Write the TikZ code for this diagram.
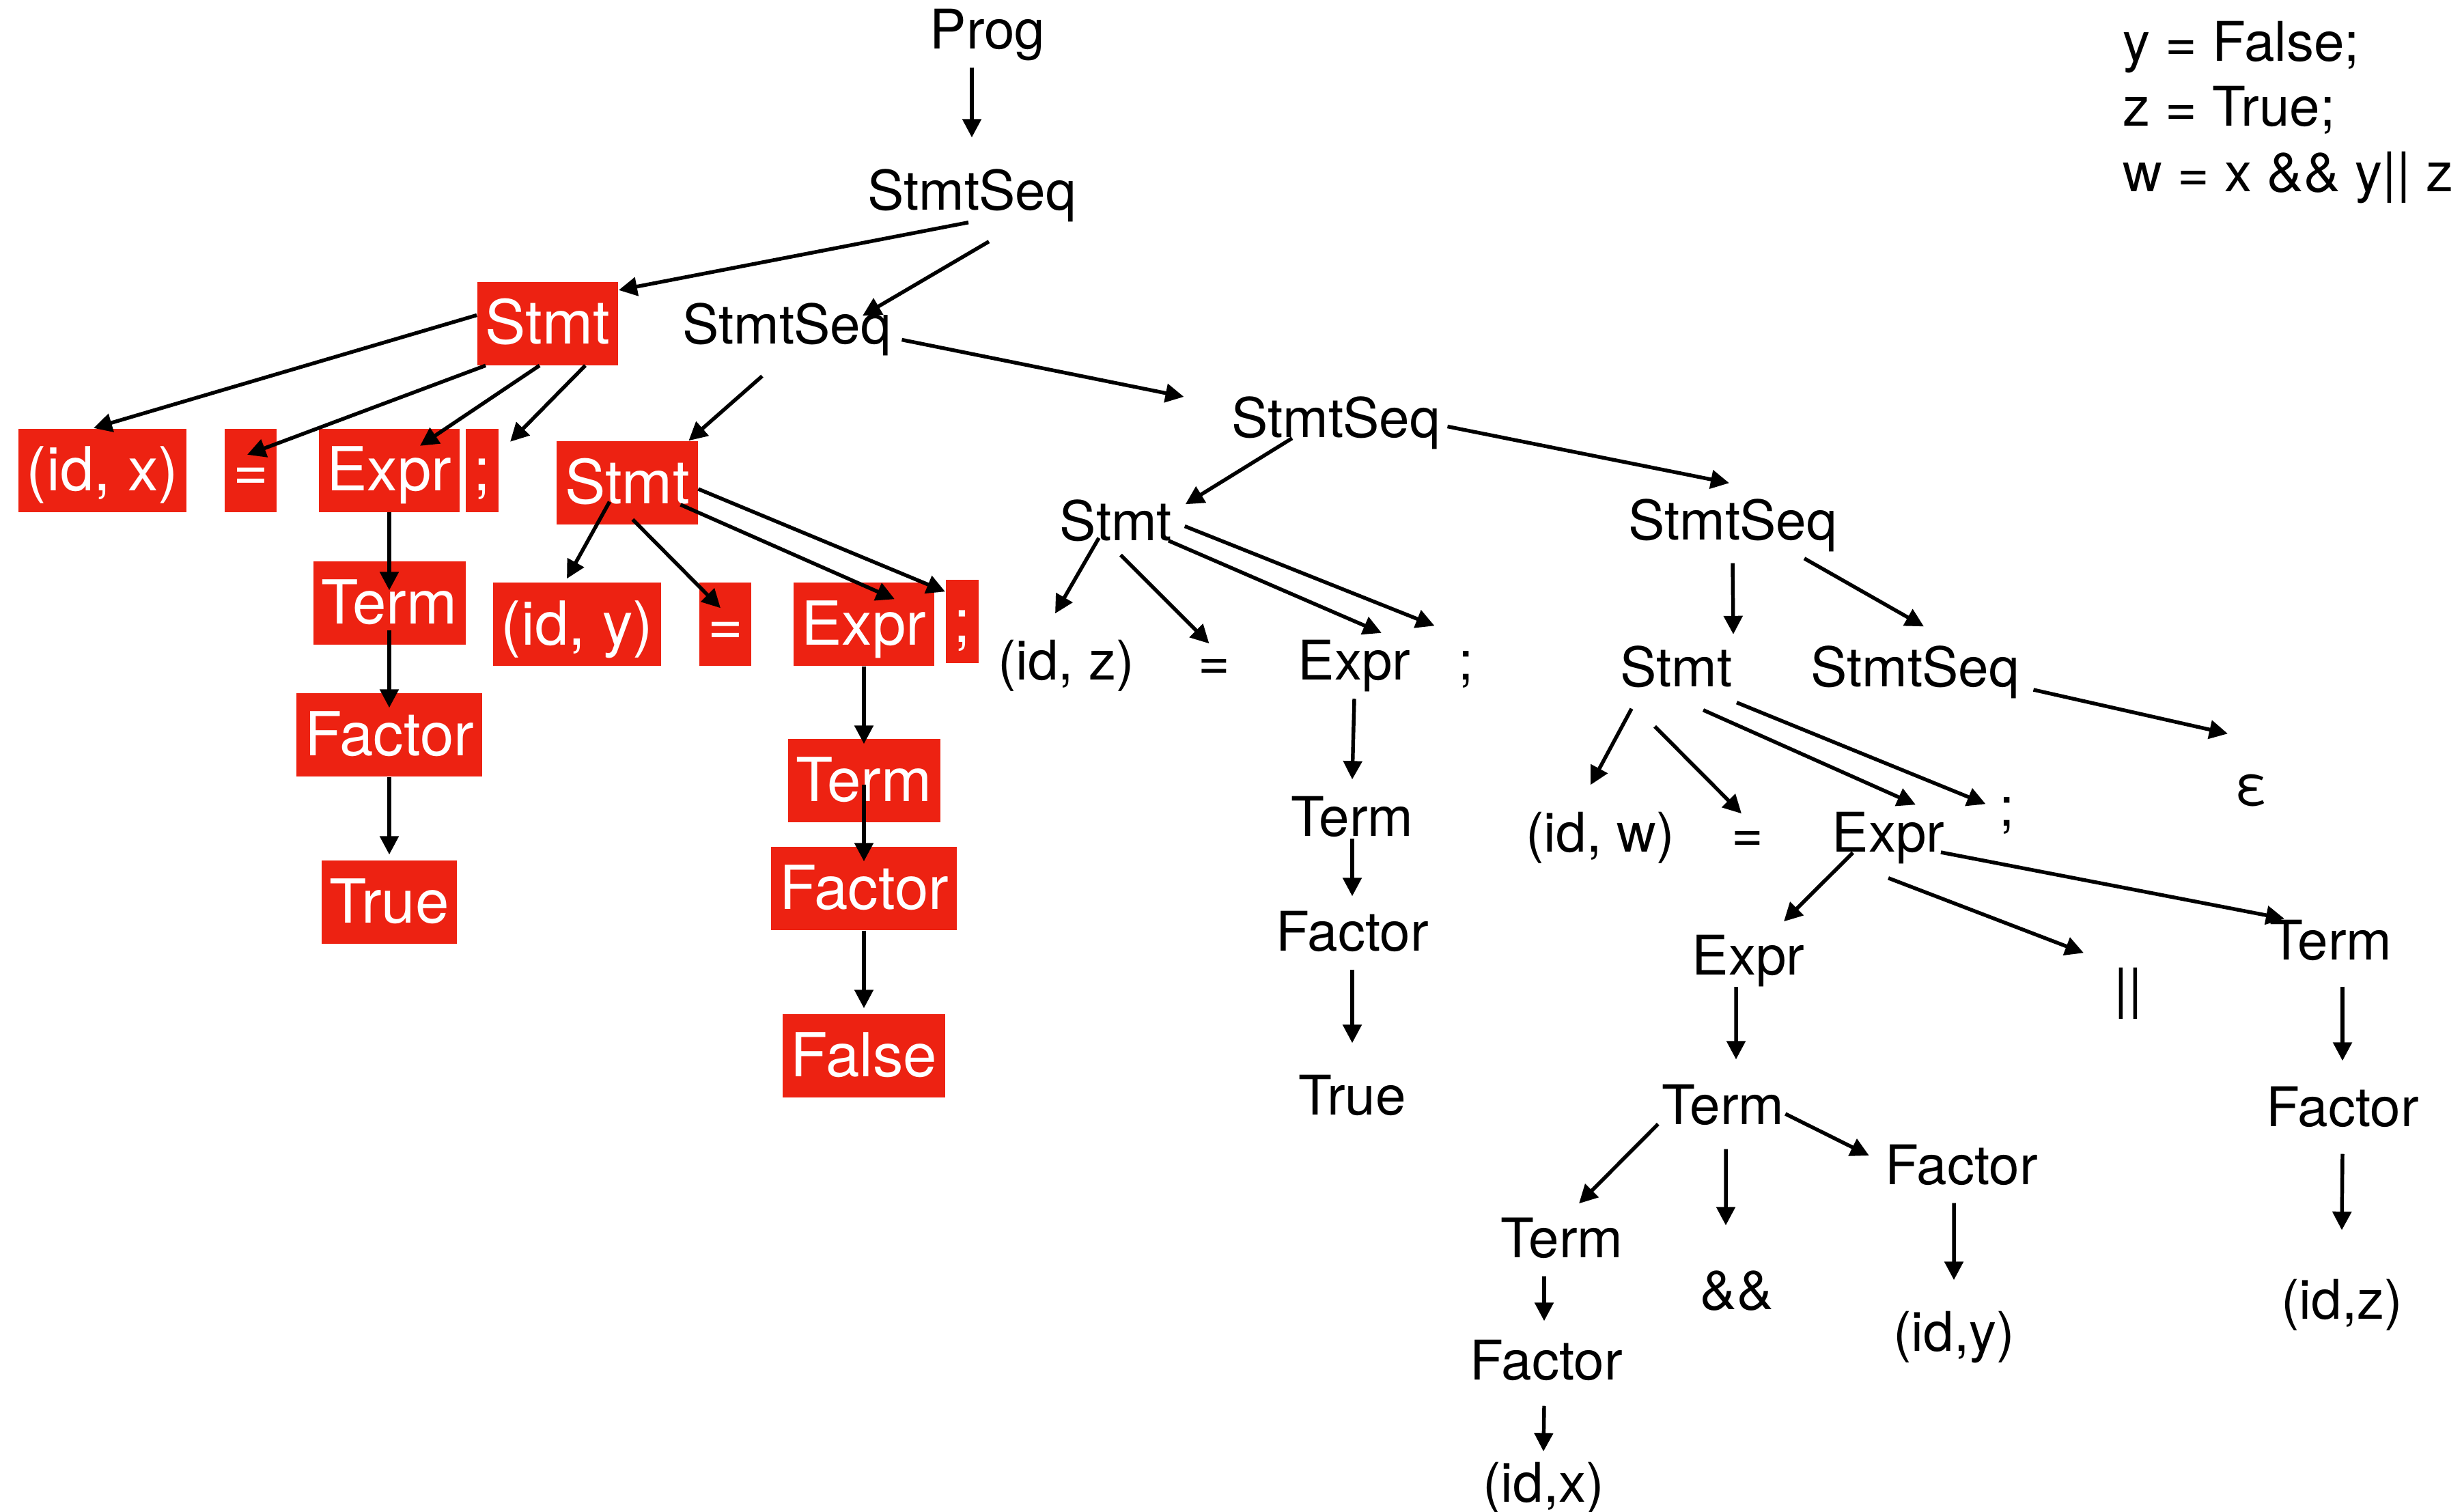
\documentclass[tikz,border=0pt]{standalone}
\usepackage{fontspec}
\setmainfont{TeX Gyre Heros}
\usetikzlibrary{arrows.meta}
\definecolor{boxred}{RGB}{237,34,18}

\begin{document}
\begin{tikzpicture}[
    lbl/.style={inner sep=0.1cm, text height=0.58cm, text depth=0.17cm, font=\fontsize{22.76pt}{27.2pt}\selectfont},
    hl/.style={fill=boxred, text=white, inner xsep=0.12cm, inner ysep=0.2cm, text height=0.71cm, text depth=0.11cm, font=\fontsize{25.3pt}{30pt}\selectfont},
    code/.style={inner sep=0pt, align=left, font=\fontsize{22.76pt}{27.2pt}\selectfont},
    arr/.style={-{Triangle[length=0.27cm,width=0.27cm]}, line width=1.55pt}
  ]
  \useasboundingbox (0,0) rectangle (36.05,-22.13);

  % the source
  \node [code, anchor=north west] (src) at (31.08,-0.30) {y = False;\\z = True;\\w = x \&\& y|| z};

  % spine
  \node [lbl] (prog) at (14.46,-0.505) {Prog};
  \node [lbl] (seq1) at (14.23,-2.865) {StmtSeq};
  \node [lbl] (seq2) at (11.52,-4.825) {StmtSeq};
  \node [lbl] (seq3) at (19.56,-6.195) {StmtSeq};
  \node [lbl] (seq4) at (25.37,-7.695) {StmtSeq};
  \node [lbl] (seq5) at (28.04,-9.845) {StmtSeq};
  \node [lbl] (eps) at (32.97,-11.575) {ε};

  % x = True;
  \node [hl] (stmt1) at (8.02,-4.735) {Stmt};
  \node [hl] (id1) at (1.50,-6.885) {(id, x)};
  \node [hl] (eq1) at (3.67,-6.885) {=};
  \node [hl] (expr1) at (5.70,-6.885) {Expr};
  \node [hl] (semi1) at (7.06,-6.885) {;};
  \node [hl] (term1) at (5.70,-8.83) {Term};
  \node [hl] (fac1) at (5.70,-10.76) {Factor};
  \node [hl] (true1) at (5.70,-13.21) {True};

  % y = False;
  \node [hl] (stmt2) at (9.185,-7.07) {Stmt};
  \node [hl] (id2) at (8.45,-9.14) {(id, y)};
  \node [hl] (eq2) at (10.62,-9.14) {=};
  \node [hl] (expr2) at (12.65,-9.14) {Expr};
  \node [hl] (semi2) at (14.09,-9.10) {;};
  \node [hl] (term2) at (12.65,-11.43) {Term};
  \node [hl] (fac2) at (12.65,-13.01) {Factor};
  \node [hl] (fls) at (12.65,-15.46) {False};

  % z = True;
  \node [lbl] (stmt3) at (16.34,-7.705) {Stmt};
  \node [lbl] (id3) at (15.61,-9.75) {(id, z)};
  \node [lbl] (eq3) at (17.78,-9.75) {=};
  \node [lbl] (expr3) at (19.83,-9.75) {Expr};
  \node [lbl] (semi3) at (21.47,-9.75) {;};
  \node [lbl] (term3) at (19.80,-12.035) {Term};
  \node [lbl] (fac3) at (19.80,-13.715) {Factor};
  \node [lbl] (true3) at (19.80,-16.115) {True};

  % w = x && y || z
  \node [lbl] (stmt4) at (24.545,-9.845) {Stmt};
  \node [lbl] (id4) at (23.43,-12.265) {(id, w)};
  \node [lbl] (eq4) at (25.59,-12.265) {=};
  \node [lbl] (expr4) at (27.65,-12.265) {Expr};
  \node [lbl] (semi4) at (29.39,-11.885) {;};
  \node [lbl] (expr5) at (25.60,-14.07) {Expr};
  \node [lbl] (orop) at (31.16,-14.55) {||};
  \node [lbl] (term5) at (34.13,-13.845) {Term};
  \node [lbl] (term6) at (25.23,-16.255) {Term};
  \node [lbl] (fac5) at (34.30,-16.285) {Factor};
  \node [lbl] (term7) at (22.87,-18.205) {Term};
  \node [lbl] (andop) at (25.43,-18.965) {\&\&};
  \node [lbl] (fac6) at (28.72,-17.135) {Factor};
  \node [lbl] (fac7) at (22.64,-19.995) {Factor};
  \node [lbl] (idy) at (28.61,-19.575) {(id,y)};
  \node [lbl] (idz) at (34.29,-19.105) {(id,z)};
  \node [lbl] (idx) at (22.60,-21.785) {(id,x)};

  % spine arrows
  \draw[arr] (prog.south -| seq1) -- ([yshift=0.37cm]seq1.north);
  \draw[arr] ([xshift=-0.05cm,yshift=0.09cm]seq1.south) -- ([yshift=-0.13cm]stmt1.north east);
  \draw[arr] ([xshift=0.25cm,yshift=-0.19cm]seq1.south) -- ([xshift=1.11cm,yshift=-0.28cm]seq2.north);
  \draw[arr] ([xshift=-0.36cm,yshift=-0.2cm]seq2.south) -- ([xshift=-0.14cm]stmt2.north east);
  \draw[arr] ([xshift=0.05cm,yshift=-0.15cm]seq2.east) -- ([xshift=-0.59cm,yshift=0.385cm]seq3.west);
  \draw[arr] ([xshift=-0.64cm,yshift=0.26cm]seq3.south) -- ([xshift=0.09cm,yshift=-0.16cm]stmt3.north east);
  \draw[arr] ([yshift=-0.05cm]seq3.east) -- ([xshift=-0.05cm,yshift=0.14cm]seq4.north);
  \draw[arr] ([yshift=-0.07cm]seq4.south) -- ([xshift=0.835cm,yshift=0.075cm]stmt4.north);
  \draw[arr] ([xshift=1.05cm]seq4.south) -- ([xshift=0.13cm,yshift=0.19cm]seq5.north);
  \draw[arr] ([xshift=0.1cm,yshift=-0.255cm]seq5.east) -- ([xshift=-0.35cm,yshift=0.35cm]eps.north);

  % first statement
  \draw[arr] ([yshift=0.12cm]stmt1.west) -- ([xshift=-0.13cm]id1.north);
  \draw[arr] ([xshift=0.13cm]stmt1.south west) -- ([xshift=-0.05cm,yshift=-0.39cm]eq1.north);
  \draw[arr] ([xshift=-0.12cm]stmt1.south) -- ([xshift=0.45cm,yshift=-0.26cm]expr1.north);
  \draw[arr] ([xshift=0.55cm]stmt1.south) -- ([xshift=0.16cm,yshift=-0.2cm]semi1.north east);
  \draw[arr] (expr1.south) -- ([yshift=-0.43cm]term1.north);
  \draw[arr] ([yshift=0.22cm]term1.south) -- ([yshift=-0.22cm]fac1.north);
  \draw[arr] (fac1.south) -- ([yshift=0.08cm]true1.north);

  % second statement
  \draw[arr] ([xshift=-0.26cm,yshift=0.34cm]stmt2.south) -- ([xshift=-0.15cm,yshift=0.05cm]id2.north);
  \draw[arr] ([xshift=0.08cm,yshift=0.08cm]stmt2.south) -- ([xshift=-0.07cm,yshift=-0.38cm]eq2.north);
  \draw[arr] ([xshift=0.78cm,yshift=-0.32cm]stmt2.center) -- ([xshift=0.45cm,yshift=-0.25cm]expr2.north);
  \draw[arr] ([yshift=-0.09cm]stmt2.east) -- ([yshift=-0.18cm]semi2.north west);
  \draw[arr] (expr2.south) -- ([yshift=-0.08cm]term2.north);
  \draw[arr] ([yshift=0.56cm]term2.south) -- ([yshift=-0.22cm]fac2.north);
  \draw[arr] (fac2.south) -- ([yshift=0.08cm]fls.north);

  % third statement
  \draw[arr] ([xshift=-0.25cm,yshift=0.31cm]stmt3.south) -- ([xshift=-0.16cm,yshift=0.285cm]id3.north);
  \draw[arr] ([xshift=0.07cm,yshift=0.06cm]stmt3.south) -- ([xshift=-0.075cm,yshift=-0.155cm]eq3.north);
  \draw[arr] ([xshift=0.77cm,yshift=0.27cm]stmt3.south) -- ([xshift=0.4cm]expr3.north);
  \draw[arr] ([xshift=0.08cm]stmt3.east) -- ([xshift=-0.465cm,yshift=0.105cm]semi3.north);
  \draw[arr] (expr3.south) -- ([yshift=0.14cm]term3.north);
  \draw[arr] ([yshift=0.24cm]term3.south) -- ([yshift=0.11cm]fac3.north);
  \draw[arr] (fac3.south) -- ([yshift=0.36cm]true3.north);

  % fourth statement
  \draw[arr] ([xshift=-0.655cm,yshift=-0.05cm]stmt4.south) -- ([xshift=-0.14cm,yshift=0.29cm]id4.north);
  \draw[arr] ([xshift=-0.315cm,yshift=-0.31cm]stmt4.south) -- ([xshift=-0.09cm,yshift=-0.13cm]eq4.north);
  \draw[arr] ([xshift=0.395cm,yshift=-0.07cm]stmt4.south) -- ([xshift=0.4cm]expr4.north);
  \draw[arr] ([xshift=0.885cm,yshift=0.04cm]stmt4.south) -- ([xshift=-0.315cm,yshift=-0.37cm]semi4.north);
  \draw[arr] ([xshift=-0.52cm,yshift=0.26cm]expr4.south) -- ([xshift=0.52cm,yshift=0.095cm]expr5.north);
  \draw[arr] ([yshift=-0.11cm]expr4.south) -- ([xshift=-0.65cm,yshift=0.115cm]orop.north);
  \draw[arr] ([xshift=-0.16cm,yshift=-0.215cm]expr4.east) -- ([xshift=-0.68cm,yshift=-0.09cm]term5.north);
  \draw[arr] ([xshift=-0.18cm,yshift=0.1cm]expr5.south) -- ([xshift=0.19cm,yshift=0.26cm]term6.north);
  \draw[arr] ([xshift=0.17cm,yshift=-0.12cm]term5.south) -- ([yshift=0.27cm]fac5.north);
  \draw[arr] ([yshift=-0.13cm]fac5.south) -- ([yshift=0.61cm]idz.north);
  \draw[arr] ([xshift=0.05cm,yshift=-0.205cm]term6.west) -- ([xshift=0.25cm,yshift=0.1cm]term7.north);
  \draw[arr] ([xshift=0.04cm,yshift=-0.09cm]term6.south) -- ([xshift=-0.16cm,yshift=0.54cm]andop.north);
  \draw[arr] ([xshift=-0.09cm,yshift=-0.055cm]term6.east) -- ([xshift=-0.13cm,yshift=0.215cm]fac6.west);
  \draw[arr] ([xshift=-0.11cm]fac6.south) -- ([yshift=0.35cm]idy.north);
  \draw[arr] ([xshift=-0.26cm]term7.south) -- ([xshift=-0.03cm,yshift=0.17cm]fac7.north);
  \draw[arr] ([xshift=-0.03cm,yshift=-0.11cm]fac7.south) -- ([yshift=0.05cm]idx.north);
\end{tikzpicture}
\end{document}
